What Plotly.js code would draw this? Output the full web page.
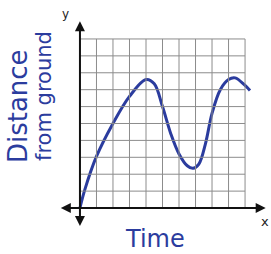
<!DOCTYPE html>
<html>
<head>
<script src="https://cdn.plot.ly/plotly-3.0.1.min.js"></script>
<style>html,body{margin:0;padding:0;background:#fff;}#chart{width:271px;height:254px;}</style>
</head>
<body>
<div id="chart"></div>
<script>
var timeVals = [0, 0.3, 1, 2, 3, 4, 4.5, 5, 5.5, 6, 6.5, 6.85, 7.2, 7.6, 8, 8.5, 9, 9.4, 10, 10.3];
var distVals = [0, 1.1, 3.05, 5.0, 6.6, 7.6, 7.35, 6.0, 4.4, 3.2, 2.5, 2.35, 2.6, 3.8, 5.6, 7.0, 7.6, 7.7, 7.25, 6.95];
var gridMax = 10;
var xTitle = "Time";
var yTitleLines = ["Distance", "from ground"];
var ink = "#2b3c9e";

var shapes = [];
for (var i = 0; i <= gridMax; i++) {
  shapes.push({type:'line', xref:'x', yref:'y', x0:i, x1:i, y0:0, y1:gridMax, line:{color:'#8c8c8c', width:1}});
  shapes.push({type:'line', xref:'x', yref:'y', x0:0, x1:gridMax, y0:i, y1:i, line:{color:'#8c8c8c', width:1}});
}

var annotations = [
  {xref:'x', yref:'y', axref:'x', ayref:'y', x:11.25, y:0, ax:-1.25, ay:0, text:'', showarrow:true, arrowside:'end+start', arrowhead:2, arrowsize:1, arrowwidth:2, arrowcolor:'#111', standoff:0, startstandoff:0},
  {xref:'x', yref:'y', axref:'x', ayref:'y', x:0, y:11.05, ax:0, ay:-1.15, text:'', showarrow:true, arrowside:'end+start', arrowhead:2, arrowsize:1, arrowwidth:2, arrowcolor:'#111', standoff:0, startstandoff:0},
  {xref:'paper', yref:'paper', x:0.462, y:-0.043, text:xTitle, showarrow:false, xanchor:'center', yanchor:'middle', font:{family:'DejaVu Sans', size:24, color:ink}},
  {xref:'paper', yref:'paper', x:-0.19, y:0.585, text:yTitleLines[0], textangle:-90, showarrow:false, xanchor:'center', yanchor:'middle', font:{family:'DejaVu Sans', size:26, color:ink}},
  {xref:'paper', yref:'paper', x:-0.067, y:0.632, text:yTitleLines[1], textangle:-90, showarrow:false, xanchor:'center', yanchor:'middle', font:{family:'DejaVu Sans', size:21, color:ink}},
  {xref:'paper', yref:'paper', x:0.038, y:1.019, text:'y', showarrow:false, xanchor:'center', yanchor:'middle', font:{family:'DejaVu Sans', size:12, color:'#222'}},
  {xref:'paper', yref:'paper', x:0.986, y:0.038, text:'x', showarrow:false, xanchor:'center', yanchor:'middle', font:{family:'DejaVu Sans', size:13, color:'#222'}}
];

var trace = {x:timeVals, y:distVals, mode:'lines', line:{color:ink, width:3, shape:'spline', smoothing:1}, hoverinfo:'none'};

var layout = {
  width:271, height:254,
  margin:{l:58, r:3, t:18, b:24},
  paper_bgcolor:'#fff', plot_bgcolor:'#fff',
  showlegend:false,
  xaxis:{range:[-1.33, 11.39], visible:false, fixedrange:true},
  yaxis:{range:[-1.30, 11.24], visible:false, fixedrange:true},
  shapes:shapes,
  annotations:annotations
};
Plotly.newPlot('chart', [trace], layout, {staticPlot:true, displayModeBar:false});
</script>
</body>
</html>
